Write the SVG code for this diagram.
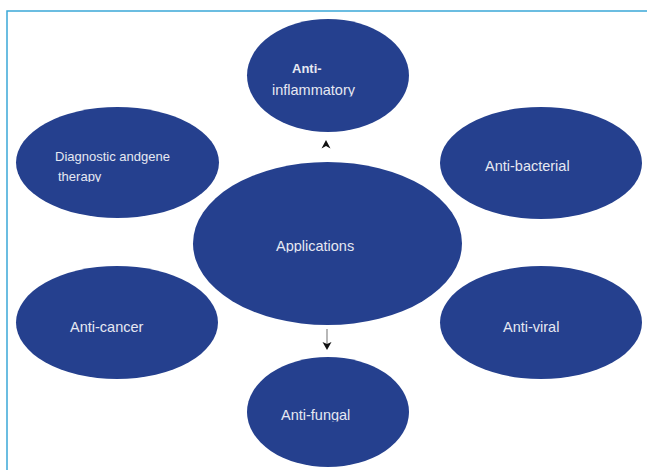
<svg xmlns="http://www.w3.org/2000/svg" width="647" height="470" viewBox="0 0 647 470">
<style>
.node{fill:#25408E;}
.lbl{font-family:"Liberation Sans",Arial,sans-serif;font-size:14.5px;fill:#E6E8F2;}
.sm{font-size:13px;}
.head{fill:#111;}
</style>
<defs>
<clipPath id="cInf"><rect x="240" y="80" width="180" height="16.5"/></clipPath>
<clipPath id="cTher"><rect x="40" y="168" width="160" height="14"/></clipPath>
<clipPath id="cApp"><rect x="260" y="230" width="120" height="22.5"/></clipPath>
<clipPath id="cFun"><rect x="260" y="400" width="120" height="21.5"/></clipPath>
</defs>
<rect x="0" y="0" width="647" height="470" fill="#fff"/>
<path d="M7,475 V11 H652" fill="none" stroke="#3BA8D8" stroke-width="1.5"/>

<g id="connectors">
<polygon class="head" points="326,140 330.5,148.5 326,146 321.5,148.5"/>
<line x1="327" y1="329" x2="327" y2="344" stroke="#888" stroke-width="1.2"/>
<polygon class="head" points="327,350 322.5,342 327,344 331.5,342"/>
</g>

<g id="applications">
<ellipse class="node" cx="327.5" cy="243.5" rx="134.5" ry="81.5"/>
<text class="lbl" x="276" y="251" clip-path="url(#cApp)">Applications</text>
</g>

<g id="anti-inflammatory">
<ellipse class="node" cx="328" cy="75.5" rx="81" ry="56.5"/>
<text class="lbl sm" x="292" y="73" font-weight="bold">Anti-</text>
<text class="lbl" x="272" y="95" font-size="13.4" clip-path="url(#cInf)">inflammatory</text>
</g>

<g id="diagnostic">
<ellipse class="node" cx="117.5" cy="162.5" rx="101.5" ry="55.5"/>
<text class="lbl sm" x="55" y="161">Diagnostic andgene</text>
<text class="lbl sm" x="58" y="181" clip-path="url(#cTher)">therapy</text>
</g>

<g id="anti-bacterial">
<ellipse class="node" cx="541" cy="163" rx="101" ry="56"/>
<text class="lbl" x="485" y="171" font-size="14.2">Anti-bacterial</text>
</g>

<g id="anti-cancer">
<ellipse class="node" cx="117" cy="322.5" rx="101" ry="56.5"/>
<text class="lbl" x="70" y="332">Anti-cancer</text>
</g>

<g id="anti-viral">
<ellipse class="node" cx="541" cy="322.5" rx="101" ry="56.5"/>
<text class="lbl" x="503" y="332">Anti-viral</text>
</g>

<g id="anti-fungal">
<ellipse class="node" cx="328" cy="412" rx="81" ry="55"/>
<text class="lbl" x="281" y="420" font-size="15" clip-path="url(#cFun)">Anti-fungal</text>
</g>
</svg>
